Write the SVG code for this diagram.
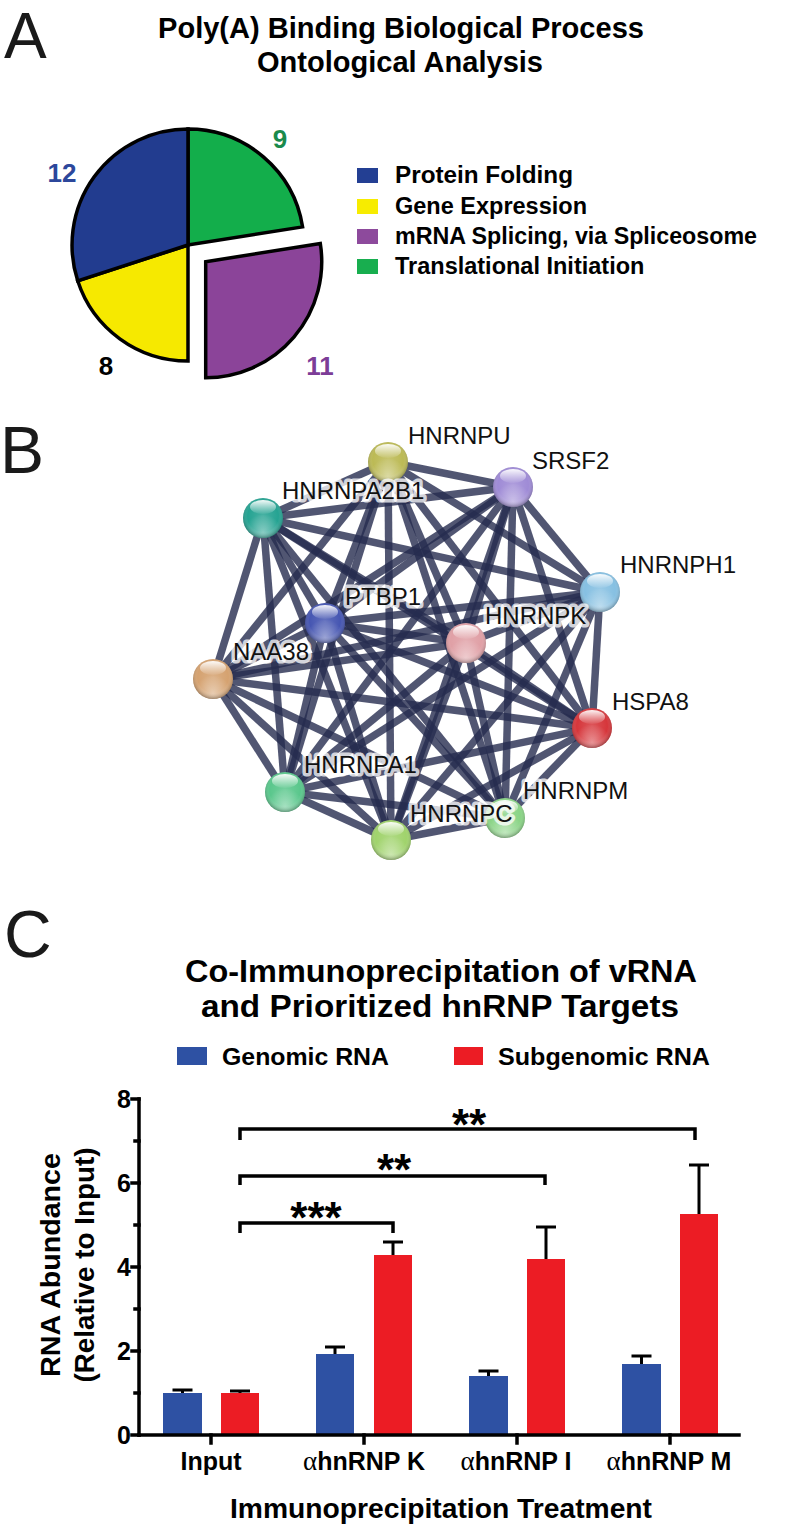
<svg xmlns="http://www.w3.org/2000/svg" width="788" height="1531" viewBox="0 0 788 1531">
<style>
text{font-family:"Liberation Sans",Arial,sans-serif;fill:#000}
.pl{font-size:66px;font-weight:normal;fill:#1a1a1a}
.b{font-weight:bold}
.sl{stroke:#000;stroke-width:3.5;stroke-linejoin:miter}
.lg{font-size:23.5px;font-weight:bold}
.e{stroke:#262c4f;stroke-opacity:0.8;stroke-width:7.5;stroke-linecap:butt}
.nl{font-size:24px;fill:#111;stroke:#fff;stroke-width:7;stroke-opacity:0.75;stroke-linejoin:round;paint-order:stroke}
.ax{stroke:#000;stroke-width:3.5;fill:none;stroke-linecap:square}
.er{stroke:#000;stroke-width:3;fill:none}
.br{stroke:#000;stroke-width:3.5;fill:none;stroke-linejoin:miter}
.tk{font-size:25px;font-weight:bold;text-anchor:end}
.xl{font-size:25px;font-weight:bold;text-anchor:middle}
.st{font-size:44px;font-weight:bold;text-anchor:middle}
.gb{fill:#2e51a3}
.gr{fill:#ec1c24}
</style>
<defs>
<radialGradient id="shade" cx="0.5" cy="0.45" r="0.55">
<stop offset="0" stop-color="#fff" stop-opacity="0.15"/>
<stop offset="0.7" stop-color="#fff" stop-opacity="0"/>
<stop offset="1" stop-color="#000" stop-opacity="0.3"/>
</radialGradient>
<radialGradient id="low" cx="0.5" cy="0.85" r="0.45">
<stop offset="0" stop-color="#fff" stop-opacity="0.45"/>
<stop offset="1" stop-color="#fff" stop-opacity="0"/>
</radialGradient>
<linearGradient id="hl" x1="0" y1="0" x2="0" y2="1">
<stop offset="0" stop-color="#fff" stop-opacity="0.95"/>
<stop offset="1" stop-color="#fff" stop-opacity="0.05"/>
</linearGradient>
</defs>
<rect width="788" height="1531" fill="#fff"/>

<!-- Panel A -->
<g id="panelA">
<text class="pl" x="4" y="58" style="font-size:64px">A</text>
<text class="b" x="401" y="38" font-size="29" text-anchor="middle" textLength="486" lengthAdjust="spacingAndGlyphs">Poly(A) Binding Biological Process</text>
<text class="b" x="400" y="72" font-size="29" text-anchor="middle" textLength="286" lengthAdjust="spacingAndGlyphs">Ontological Analysis</text>
<g id="pie">
<path id="slice-green" class="sl" fill="#13ae4b" d="M188,245 L188,129 A116,116 0 0 1 302.6,226.9 Z"/>
<path id="slice-purple" class="sl" fill="#8b4499" d="M205.7,261.7 L320.3,243.6 A116,116 0 0 1 205.7,377.7 Z"/>
<path id="slice-yellow" class="sl" fill="#f6e900" d="M188,245 L188,361 A116,116 0 0 1 77.7,280.8 Z"/>
<path id="slice-blue" class="sl" fill="#223c8f" d="M188,245 L77.7,280.8 A116,116 0 0 1 188,129 Z"/>
</g>
<text class="b" x="62" y="182" font-size="26" text-anchor="middle" style="fill:#2c479b">12</text>
<text class="b" x="280" y="148" font-size="26" text-anchor="middle" style="fill:#1a8a4c">9</text>
<text class="b" x="106" y="375" font-size="26" text-anchor="middle">8</text>
<text class="b" x="320" y="375" font-size="26" text-anchor="middle" style="fill:#7c3d97">11</text>
<g id="legendA">
<rect x="357" y="168" width="21" height="15" fill="#233f93"/>
<text class="lg" x="395" y="183" textLength="178" lengthAdjust="spacingAndGlyphs">Protein Folding</text>
<rect x="357" y="199" width="21" height="15" fill="#f7ec00"/>
<text class="lg" x="395" y="214">Gene Expression</text>
<rect x="357" y="229" width="21" height="15" fill="#8d4a9c"/>
<text class="lg" x="395" y="244" textLength="362" lengthAdjust="spacingAndGlyphs">mRNA Splicing, via Spliceosome</text>
<rect x="357" y="259" width="21" height="15" fill="#18ae4f"/>
<text class="lg" x="395" y="274">Translational Initiation</text>
</g>
</g>

<!-- Panel B -->
<text class="pl" x="0" y="473">B</text>
<g id="edges">
<line class="e" x1="388" y1="462" x2="513" y2="487"/>
<line class="e" x1="388" y1="462" x2="263" y2="518"/>
<line class="e" x1="388" y1="462" x2="600" y2="592"/>
<line class="e" x1="388" y1="462" x2="325" y2="623"/>
<line class="e" x1="388" y1="462" x2="466" y2="643"/>
<line class="e" x1="388" y1="462" x2="213" y2="679"/>
<line class="e" x1="388" y1="462" x2="592" y2="728"/>
<line class="e" x1="388" y1="462" x2="285" y2="792"/>
<line class="e" x1="388" y1="462" x2="391" y2="840"/>
<line class="e" x1="388" y1="462" x2="505" y2="818"/>
<line class="e" x1="513" y1="487" x2="263" y2="518"/>
<line class="e" x1="513" y1="487" x2="600" y2="592"/>
<line class="e" x1="513" y1="487" x2="325" y2="623"/>
<line class="e" x1="513" y1="487" x2="466" y2="643"/>
<line class="e" x1="513" y1="487" x2="213" y2="679"/>
<line class="e" x1="513" y1="487" x2="592" y2="728"/>
<line class="e" x1="513" y1="487" x2="285" y2="792"/>
<line class="e" x1="513" y1="487" x2="391" y2="840"/>
<line class="e" x1="513" y1="487" x2="505" y2="818"/>
<line class="e" x1="263" y1="518" x2="600" y2="592"/>
<line class="e" x1="263" y1="518" x2="325" y2="623"/>
<line class="e" x1="263" y1="518" x2="466" y2="643"/>
<line class="e" x1="263" y1="518" x2="213" y2="679"/>
<line class="e" x1="263" y1="518" x2="592" y2="728"/>
<line class="e" x1="263" y1="518" x2="285" y2="792"/>
<line class="e" x1="263" y1="518" x2="391" y2="840"/>
<line class="e" x1="263" y1="518" x2="505" y2="818"/>
<line class="e" x1="600" y1="592" x2="325" y2="623"/>
<line class="e" x1="600" y1="592" x2="466" y2="643"/>
<line class="e" x1="600" y1="592" x2="213" y2="679"/>
<line class="e" x1="600" y1="592" x2="592" y2="728"/>
<line class="e" x1="600" y1="592" x2="285" y2="792"/>
<line class="e" x1="600" y1="592" x2="391" y2="840"/>
<line class="e" x1="600" y1="592" x2="505" y2="818"/>
<line class="e" x1="325" y1="623" x2="466" y2="643"/>
<line class="e" x1="325" y1="623" x2="213" y2="679"/>
<line class="e" x1="325" y1="623" x2="592" y2="728"/>
<line class="e" x1="325" y1="623" x2="285" y2="792"/>
<line class="e" x1="325" y1="623" x2="391" y2="840"/>
<line class="e" x1="325" y1="623" x2="505" y2="818"/>
<line class="e" x1="466" y1="643" x2="213" y2="679"/>
<line class="e" x1="466" y1="643" x2="592" y2="728"/>
<line class="e" x1="466" y1="643" x2="285" y2="792"/>
<line class="e" x1="466" y1="643" x2="391" y2="840"/>
<line class="e" x1="466" y1="643" x2="505" y2="818"/>
<line class="e" x1="213" y1="679" x2="592" y2="728"/>
<line class="e" x1="213" y1="679" x2="285" y2="792"/>
<line class="e" x1="213" y1="679" x2="391" y2="840"/>
<line class="e" x1="213" y1="679" x2="505" y2="818"/>
<line class="e" x1="592" y1="728" x2="285" y2="792"/>
<line class="e" x1="592" y1="728" x2="391" y2="840"/>
<line class="e" x1="592" y1="728" x2="505" y2="818"/>
<line class="e" x1="285" y1="792" x2="391" y2="840"/>
<line class="e" x1="285" y1="792" x2="505" y2="818"/>
<line class="e" x1="391" y1="840" x2="505" y2="818"/>
</g>
<g id="node-HNRNPU"><circle cx="388" cy="462" r="20" fill="#bcba55"/><circle cx="388" cy="462" r="20" fill="url(#low)"/><circle cx="388" cy="462" r="20" fill="url(#shade)"/><ellipse cx="388" cy="451" rx="13" ry="7" fill="url(#hl)"/></g>
<g id="node-SRSF2"><circle cx="513" cy="487" r="20" fill="#9f8bd6"/><circle cx="513" cy="487" r="20" fill="url(#low)"/><circle cx="513" cy="487" r="20" fill="url(#shade)"/><ellipse cx="513" cy="476" rx="13" ry="7" fill="url(#hl)"/></g>
<g id="node-HNRNPA2B1"><circle cx="263" cy="518" r="20" fill="#25a392"/><circle cx="263" cy="518" r="20" fill="url(#low)"/><circle cx="263" cy="518" r="20" fill="url(#shade)"/><ellipse cx="263" cy="507" rx="13" ry="7" fill="url(#hl)"/></g>
<g id="node-HNRNPH1"><circle cx="600" cy="592" r="20" fill="#86c0e2"/><circle cx="600" cy="592" r="20" fill="url(#low)"/><circle cx="600" cy="592" r="20" fill="url(#shade)"/><ellipse cx="600" cy="581" rx="13" ry="7" fill="url(#hl)"/></g>
<g id="node-PTBP1"><circle cx="325" cy="623" r="20" fill="#4656b2"/><circle cx="325" cy="623" r="20" fill="url(#low)"/><circle cx="325" cy="623" r="20" fill="url(#shade)"/><ellipse cx="325" cy="612" rx="13" ry="7" fill="url(#hl)"/></g>
<g id="node-HNRNPK"><circle cx="466" cy="643" r="20" fill="#e0a0a6"/><circle cx="466" cy="643" r="20" fill="url(#low)"/><circle cx="466" cy="643" r="20" fill="url(#shade)"/><ellipse cx="466" cy="632" rx="13" ry="7" fill="url(#hl)"/></g>
<g id="node-NAA38"><circle cx="213" cy="679" r="20" fill="#d5a270"/><circle cx="213" cy="679" r="20" fill="url(#low)"/><circle cx="213" cy="679" r="20" fill="url(#shade)"/><ellipse cx="213" cy="668" rx="13" ry="7" fill="url(#hl)"/></g>
<g id="node-HSPA8"><circle cx="592" cy="728" r="20" fill="#d6363b"/><circle cx="592" cy="728" r="20" fill="url(#low)"/><circle cx="592" cy="728" r="20" fill="url(#shade)"/><ellipse cx="592" cy="717" rx="13" ry="7" fill="url(#hl)"/></g>
<g id="node-HNRNPA1"><circle cx="285" cy="792" r="20" fill="#5ac78c"/><circle cx="285" cy="792" r="20" fill="url(#low)"/><circle cx="285" cy="792" r="20" fill="url(#shade)"/><ellipse cx="285" cy="781" rx="13" ry="7" fill="url(#hl)"/></g>
<g id="node-HNRNPC"><circle cx="391" cy="840" r="20" fill="#a0d36c"/><circle cx="391" cy="840" r="20" fill="url(#low)"/><circle cx="391" cy="840" r="20" fill="url(#shade)"/><ellipse cx="391" cy="829" rx="13" ry="7" fill="url(#hl)"/></g>
<g id="node-HNRNPM"><circle cx="505" cy="818" r="20" fill="#8ad486"/><circle cx="505" cy="818" r="20" fill="url(#low)"/><circle cx="505" cy="818" r="20" fill="url(#shade)"/><ellipse cx="505" cy="807" rx="13" ry="7" fill="url(#hl)"/></g>
<g id="labels">
<text class="nl" x="408" y="444">HNRNPU</text>
<text class="nl" x="532" y="469">SRSF2</text>
<text class="nl" x="282" y="499">HNRNPA2B1</text>
<text class="nl" x="620" y="573">HNRNPH1</text>
<text class="nl" x="345" y="605">PTBP1</text>
<text class="nl" x="485" y="624">HNRNPK</text>
<text class="nl" x="233" y="660">NAA38</text>
<text class="nl" x="612" y="710">HSPA8</text>
<text class="nl" x="304" y="773">HNRNPA1</text>
<text class="nl" x="523" y="799">HNRNPM</text>
<text class="nl" x="410" y="822">HNRNPC</text>
</g>

<!-- Panel C -->
<g id="panelC">
<text class="pl" x="4" y="957">C</text>
<text class="b" x="441" y="982" font-size="31" text-anchor="middle" textLength="512" lengthAdjust="spacingAndGlyphs">Co-Immunoprecipitation of vRNA</text>
<text class="b" x="440" y="1017" font-size="31" text-anchor="middle" textLength="478" lengthAdjust="spacingAndGlyphs">and Prioritized hnRNP Targets</text>
<g id="legendC">
<rect class="gb" x="177" y="1047" width="30" height="18"/>
<text class="b" x="222" y="1065" font-size="24" textLength="167" lengthAdjust="spacingAndGlyphs">Genomic RNA</text>
<rect class="gr" x="454" y="1047" width="29" height="18"/>
<text class="b" x="498" y="1065" font-size="24" textLength="212" lengthAdjust="spacingAndGlyphs">Subgenomic RNA</text>
</g>
<g id="yaxis">
<path class="ax" d="M139,1099 V1435"/>
<path class="ax" d="M132,1435 H139 M132,1351 H139 M132,1267 H139 M132,1183 H139 M132,1099 H139 M135,1393 H139 M135,1309 H139 M135,1225 H139 M135,1141 H139"/>
<text class="tk" x="131" y="1444">0</text>
<text class="tk" x="131" y="1360">2</text>
<text class="tk" x="131" y="1276">4</text>
<text class="tk" x="131" y="1192">6</text>
<text class="tk" x="131" y="1108">8</text>
<text class="b" transform="translate(60,1265) rotate(-90)" font-size="28" text-anchor="middle" textLength="224" lengthAdjust="spacingAndGlyphs">RNA Abundance</text>
<text class="b" transform="translate(94,1265) rotate(-90)" font-size="28" text-anchor="middle" textLength="235" lengthAdjust="spacingAndGlyphs">(Relative to Input)</text>
</g>
<g id="bars">
<path class="er" d="M182.5,1393 V1390 M172.5,1390 H192.5"/>
<rect class="gb" x="163" y="1393" width="39" height="42"/>
<path class="er" d="M240,1393 V1391 M230,1391 H250"/>
<rect class="gr" x="221" y="1393" width="38" height="42"/>
<path class="er" d="M335,1354 V1347 M325,1347 H345"/>
<rect class="gb" x="316" y="1354" width="38" height="81"/>
<path class="er" d="M393,1255 V1242 M383,1242 H403"/>
<rect class="gr" x="374" y="1255" width="38" height="180"/>
<path class="er" d="M488.5,1376 V1371 M478.5,1371 H498.5"/>
<rect class="gb" x="469" y="1376" width="39" height="59"/>
<path class="er" d="M546,1259 V1227 M536,1227 H556"/>
<rect class="gr" x="527" y="1259" width="38" height="176"/>
<path class="er" d="M641.5,1364 V1356 M631.5,1356 H651.5"/>
<rect class="gb" x="622" y="1364" width="39" height="71"/>
<path class="er" d="M699,1214 V1165 M689,1165 H709"/>
<rect class="gr" x="680" y="1214" width="38" height="221"/>
</g>
<g id="xaxis">
<path class="ax" d="M139,1435 H739"/>
<path class="ax" d="M211,1435 V1443 M364,1435 V1443 M517,1435 V1443 M670,1435 V1443"/>
<text class="xl" x="211" y="1470">Input</text>
<text class="xl" x="364" y="1470"><tspan font-family="'Liberation Serif',serif" font-weight="normal" font-size="27">α</tspan>hnRNP K</text>
<text class="xl" x="516" y="1470"><tspan font-family="'Liberation Serif',serif" font-weight="normal" font-size="27">α</tspan>hnRNP I</text>
<text class="xl" x="669" y="1470"><tspan font-family="'Liberation Serif',serif" font-weight="normal" font-size="27">α</tspan>hnRNP M</text>
<text class="b" x="441" y="1518" font-size="28" text-anchor="middle" textLength="422" lengthAdjust="spacingAndGlyphs">Immunoprecipitation Treatment</text>
</g>
<g id="significance">
<path class="br" d="M240,1233 V1223 H393 V1233"/>
<text class="st" x="316" y="1233">***</text>
<path class="br" d="M240,1185 V1176 H545 V1185"/>
<text class="st" x="394" y="1185">**</text>
<path class="br" d="M240,1140 V1129 H695 V1140"/>
<text class="st" x="469" y="1140">**</text>
</g>
</g>
</svg>
